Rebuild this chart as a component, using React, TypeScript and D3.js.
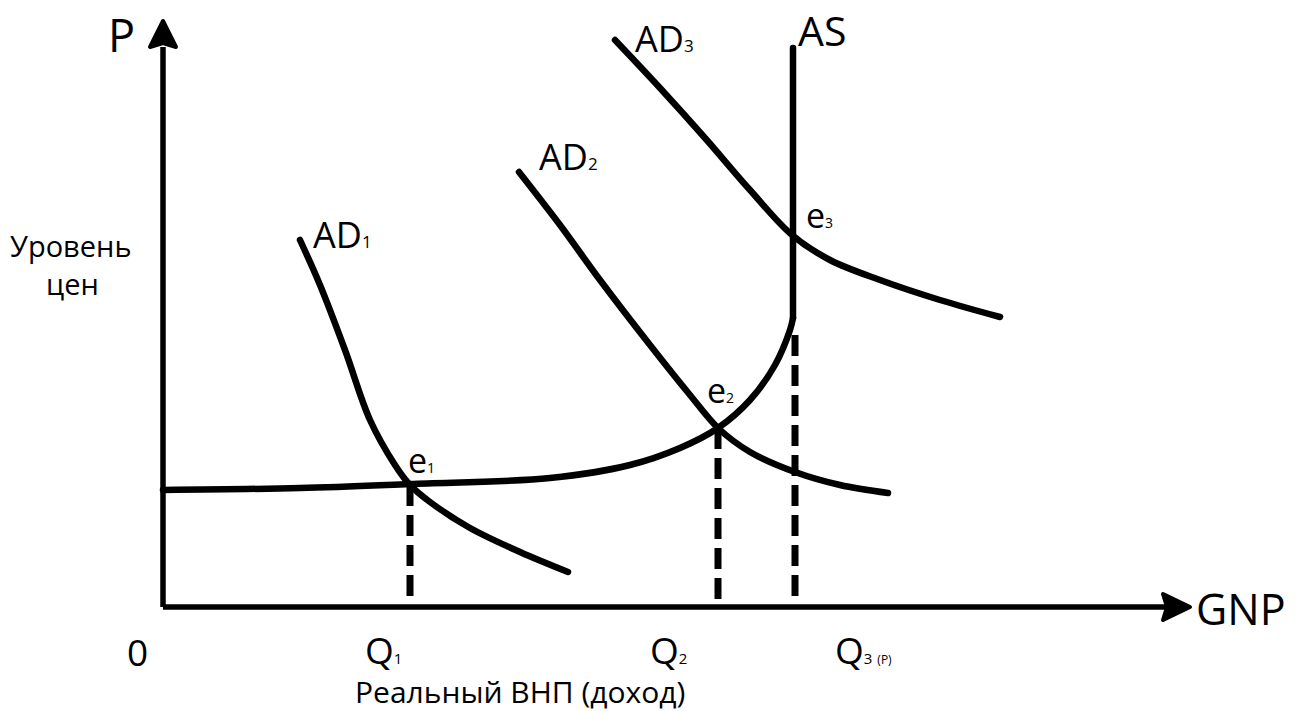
import * as d3 from 'd3'

// curve points: [quantity, price]
const asCurve: [number, number][] = [
  [0, 117], [137, 119], [247, 123], [387, 129], [467, 142], [517, 159],
  [555, 179], [587, 207], [612, 242], [627, 277], [630, 289],
]
const asVertical: [number, number][] = [[630, 289], [630, 559]]
const ad1: [number, number][] = [
  [137, 367], [157, 322], [182, 257], [207, 187], [232, 142], [247, 122],
  [267, 105], [307, 79], [357, 55], [405, 35],
]
const ad2: [number, number][] = [
  [356, 435], [397, 382], [437, 327], [487, 262], [527, 212], [555, 179],
  [587, 155], [632, 135], [677, 122], [725, 114],
]
const ad3: [number, number][] = [
  [452, 567], [497, 519], [542, 469], [587, 417], [629, 372], [667, 347],
  [717, 327], [777, 307], [837, 290],
]
// equilibrium points e1..e3, where the drop lines start
const eqPoints: [number, number][] = [[247, 122], [555, 179], [632, 272]]
const eqNames = ['1', '2', '3']
const qNames = ['1', '2', '3']

const W = 1296
const H = 711
const x0 = 163
const y0 = 607

export default function App() {
  const x = d3.scaleLinear().domain([0, 1020]).range([x0, x0 + 1020])
  const y = d3.scaleLinear().domain([0, 585]).range([y0, y0 - 585])
  const line = d3.line<[number, number]>()
    .x(d => x(d[0]))
    .y(d => y(d[1]))
    .curve(d3.curveCatmullRom.alpha(0.5))

  const font = "'Open Sans', 'Noto Sans', sans-serif"
  const stroke = '#000'
  const lw = 6.5

  // label offsets relative to the equilibrium points
  const eqLabelPos = [[161, 473], [152, 403], [174, 228]]
  const qLabelX = [-45, -68, 40]

  return (
    <svg width={W} height={H} style={{ position: 'absolute', left: 0, top: 0, background: '#fff' }}
      fontFamily={font}>
      {/* axes */}
      <line x1={x(0)} y1={y(0)} x2={x(0)} y2={y(560)} stroke={stroke} strokeWidth={5.5} />
      <line x1={x(0)} y1={y(0)} x2={x(1005)} y2={y(0)} stroke={stroke} strokeWidth={5.5} />
      <path d={`M${x(0)},${y(586)} L${x(0) - 13},${y(560)} L${x(0)},${y(564)} L${x(0) + 13},${y(560)} Z`}
        fill={stroke} stroke={stroke} strokeWidth={4} strokeLinejoin="round" />
      <path d={`M${x(1027)},${y(0)} L${x(1000)},${y(0) - 13} L${x(1004)},${y(0)} L${x(1000)},${y(0) + 13} Z`}
        fill={stroke} stroke={stroke} strokeWidth={4} strokeLinejoin="round" />

      {/* dashed drop lines */}
      {eqPoints.map((p, i) => (
        <line key={i} x1={x(p[0])} y1={y(p[1])} x2={x(p[0])} y2={y(0)}
          stroke={stroke} strokeWidth={7} strokeDasharray="21 9" />
      ))}

      {/* curves */}
      {[asCurve, asVertical, ad1, ad2, ad3].map((c, i) => (
        <path key={i} d={line(c) ?? ''} fill="none" stroke={stroke} strokeWidth={lw}
          strokeLinecap="round" strokeLinejoin="round" />
      ))}

      {/* axis labels */}
      <text x={108} y={52} fontSize={45}>P</text>
      <text x={1196} y={625} fontSize={43}>GNP</text>
      <text x={127} y={666} fontSize={37}>0</text>
      <text x={10} y={257} fontSize={29}>Уровень</text>
      <text x={46} y={295} fontSize={29}>цен</text>
      <text x={355} y={703} fontSize={30}>Реальный ВНП (доход)</text>

      {/* curve labels */}
      <text x={798} y={46} fontSize={41}>AS</text>
      <text x={635} y={52} fontSize={36}>AD<tspan fontSize={17}>3</tspan></text>
      <text x={539} y={170} fontSize={36}>AD<tspan fontSize={17}>2</tspan></text>
      <text x={313} y={248} fontSize={36}>AD<tspan fontSize={17}>1</tspan></text>

      {/* equilibrium labels */}
      {eqPoints.map((p, i) => (
        <text key={i} x={eqLabelPos[i][0] + p[0]} y={eqLabelPos[i][1]} fontSize={34}>
          e<tspan fontSize={14}>{eqNames[i]}</tspan>
        </text>
      ))}

      {/* Q labels */}
      {eqPoints.map((p, i) => (
        <text key={i} x={x(p[0]) + qLabelX[i]} y={664} fontSize={37}>
          Q<tspan fontSize={15}>{qNames[i]}</tspan>
          {i === 2 ? <tspan fontSize={12} dx={5}>(P)</tspan> : null}
        </text>
      ))}
    </svg>
  )
}
